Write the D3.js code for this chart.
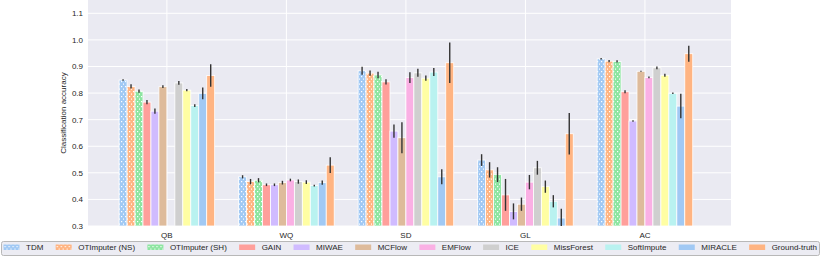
<!DOCTYPE html>
<html>
<head>
<meta charset="utf-8">
<script src="https://cdn.jsdelivr.net/npm/d3@7"></script>
<style>
  body { margin: 0; background: #fff; }
  text { font-family: "Liberation Sans", Arial, sans-serif; fill: #262626; }
</style>
</head>
<body>
<div id="chart"></div>
<script>
var datasets = ["QB", "WQ", "SD", "GL", "AC"];
var methods = ["TDM", "OTImputer (NS)", "OTImputer (SH)", "GAIN", "MIWAE", "MCFlow",
               "EMFlow", "ICE", "MissForest", "SoftImpute", "MIRACLE", "Ground-truth"];
var colors = ["#a1c9f4", "#ffb482", "#8de5a1", "#ff9f9b", "#d0bbff", "#debb9b",
              "#fab0e4", "#cfcfcf", "#fffea3", "#b9f2f0", "#a1c9f4", "#ffb482"];
var hatched = ["TDM", "OTImputer (NS)", "OTImputer (SH)"];
var yTicks = [0.3, 0.4, 0.5, 0.6, 0.7, 0.8, 0.9, 1.0, 1.1];

// mean accuracy per method, one row per dataset (null = not run)
var accQB = [0.849, 0.825, 0.807, 0.766, 0.732, 0.824, null, 0.838, 0.811, 0.753, 0.799, 0.866];
var accWQ = [0.485, 0.467, 0.472, 0.455, 0.455, 0.463, 0.473, 0.467, 0.465, 0.452, 0.463, 0.529];
var accSD = [0.884, 0.875, 0.868, 0.842, 0.657, 0.632, 0.858, 0.876, 0.856, 0.879, 0.485, 0.914];
var accGL = [0.548, 0.511, 0.493, 0.417, 0.355, 0.382, 0.465, 0.519, 0.448, 0.393, 0.330, 0.647];
var accAC = [0.929, 0.920, 0.919, 0.805, 0.695, 0.882, 0.859, 0.895, 0.867, 0.799, 0.751, 0.948];

// half length of the error bars
var errQB = [0.003, 0.008, 0.006, 0.008, 0.010, 0.005, null, 0.007, 0.004, 0.005, 0.022, 0.042];
var errWQ = [0.006, 0.010, 0.008, 0.005, 0.005, 0.007, 0.005, 0.008, 0.007, 0.003, 0.008, 0.030];
var errSD = [0.015, 0.010, 0.012, 0.010, 0.025, 0.058, 0.020, 0.015, 0.010, 0.015, 0.028, 0.076];
var errGL = [0.022, 0.029, 0.028, 0.060, 0.030, 0.025, 0.027, 0.026, 0.023, 0.023, 0.035, 0.078];
var errAC = [0.003, 0.004, 0.004, 0.006, 0.003, 0.002, 0.003, 0.005, 0.006, 0.003, 0.046, 0.030];

var accs = [accQB, accWQ, accSD, accGL, accAC];
var errs = [errQB, errWQ, errSD, errGL, errAC];

var W = 822, H = 257;
var plotL = 88, plotR = 731, plotT = 0, plotB = 226;

var svg = d3.select("#chart").append("svg")
  .attr("width", W).attr("height", H);

var defs = svg.append("defs");
var pat = defs.append("pattern")
  .attr("id", "dots")
  .attr("patternUnits", "userSpaceOnUse")
  .attr("width", 4).attr("height", 5);
pat.append("rect").attr("x", 1).attr("y", 1).attr("width", 1.2).attr("height", 1.2).attr("fill", "#fff");
pat.append("rect").attr("x", 3).attr("y", 3.5).attr("width", 1.2).attr("height", 1.2).attr("fill", "#fff");

var x = d3.scaleLinear().domain([-0.66, 4.72]).range([plotL, plotR]);
var inner = d3.scaleBand().domain(methods).range([-0.4, 0.4]);
var y = d3.scaleLinear().domain([0.3, 1.15]).range([plotB, plotT]);

svg.append("rect")
  .attr("x", plotL).attr("y", plotT)
  .attr("width", plotR - plotL).attr("height", plotB - plotT)
  .attr("fill", "#eaeaf2");

// grid
svg.append("g").selectAll("line").data(yTicks).enter().append("line")
  .attr("x1", plotL).attr("x2", plotR)
  .attr("y1", function(d){ return y(d); }).attr("y2", function(d){ return y(d); })
  .attr("stroke", "#fff").attr("stroke-width", 1);
svg.append("g").selectAll("line").data(datasets).enter().append("line")
  .attr("x1", function(d, i){ return x(i); }).attr("x2", function(d, i){ return x(i); })
  .attr("y1", plotT).attr("y2", plotB)
  .attr("stroke", "#fff").attr("stroke-width", 1);

// bars
var rows = [];
datasets.forEach(function(ds, i){
  methods.forEach(function(m, j){
    if (accs[i][j] == null) return;
    rows.push({ ds: i, m: m, j: j, v: accs[i][j], e: errs[i][j] });
  });
});

var bw = x(inner.bandwidth()) - x(0);
var bars = svg.append("g");
rows.forEach(function(d){
  var bx = x(d.ds + inner(d.m));
  bars.append("rect")
    .attr("x", bx).attr("y", y(d.v))
    .attr("width", bw).attr("height", y(0.3) - y(d.v))
    .attr("fill", colors[d.j])
    .attr("stroke", "#fff").attr("stroke-width", 0.8);
  if (hatched.indexOf(d.m) >= 0) {
    bars.append("rect")
      .attr("x", bx).attr("y", y(d.v))
      .attr("width", bw).attr("height", y(0.3) - y(d.v))
      .attr("fill", "url(#dots)");
  }
});

// error bars
svg.append("g").selectAll("line").data(rows).enter().append("line")
  .attr("x1", function(d){ return x(d.ds + inner(d.m)) + bw / 2; })
  .attr("x2", function(d){ return x(d.ds + inner(d.m)) + bw / 2; })
  .attr("y1", function(d){ return Math.min(plotB, y(d.v - d.e)); })
  .attr("y2", function(d){ return y(d.v + d.e); })
  .attr("stroke", "#333").attr("stroke-width", 1.4);

// axes text
svg.append("g").selectAll("text").data(yTicks).enter().append("text")
  .attr("x", plotL - 5).attr("y", function(d){ return y(d) + 3; })
  .attr("text-anchor", "end").attr("font-size", 8)
  .text(function(d){ return d3.format(".1f")(d); });

svg.append("g").selectAll("text").data(datasets).enter().append("text")
  .attr("x", function(d, i){ return x(i); }).attr("y", 238)
  .attr("text-anchor", "middle").attr("font-size", 8)
  .text(function(d){ return d; });

svg.append("text")
  .attr("transform", "translate(66," + ((plotT + plotB) / 2) + ") rotate(-90)")
  .attr("text-anchor", "middle").attr("font-size", 8)
  .text("Classification accuracy");

// legend
var leg = svg.append("g");
leg.append("rect")
  .attr("x", 1.5).attr("y", 241.5).attr("rx", 2)
  .attr("width", 818).attr("height", 14)
  .attr("fill", "#ececf3").attr("stroke", "#b8b8b8").attr("stroke-width", 1);

var items = leg.selectAll("g.item").data(methods).enter().append("g").attr("class", "item");
items.append("rect")
  .attr("width", 16).attr("height", 5.5).attr("y", 244.5)
  .attr("fill", function(d, j){ return colors[j]; });
items.filter(function(d){ return hatched.indexOf(d) >= 0; }).append("rect")
  .attr("width", 16).attr("height", 5.5).attr("y", 244.5)
  .attr("fill", "url(#dots)");
items.append("text")
  .attr("x", 22.5).attr("y", 250.3)
  .attr("font-size", 8)
  .text(function(d){ return d; });

// spread the entries so the row fills the frame
var widths = [];
items.select("text").each(function(){ widths.push(this.getComputedTextLength()); });
var startX = 3.5, endX = 817;
var used = d3.sum(widths) + widths.length * 22.5;
var gap = (endX - startX - used) / (widths.length - 1);
var cx = startX;
items.attr("transform", function(d, j){
  var t = "translate(" + cx + ",0)";
  cx += 22.5 + widths[j] + gap;
  return t;
});
</script>
</body>
</html>
